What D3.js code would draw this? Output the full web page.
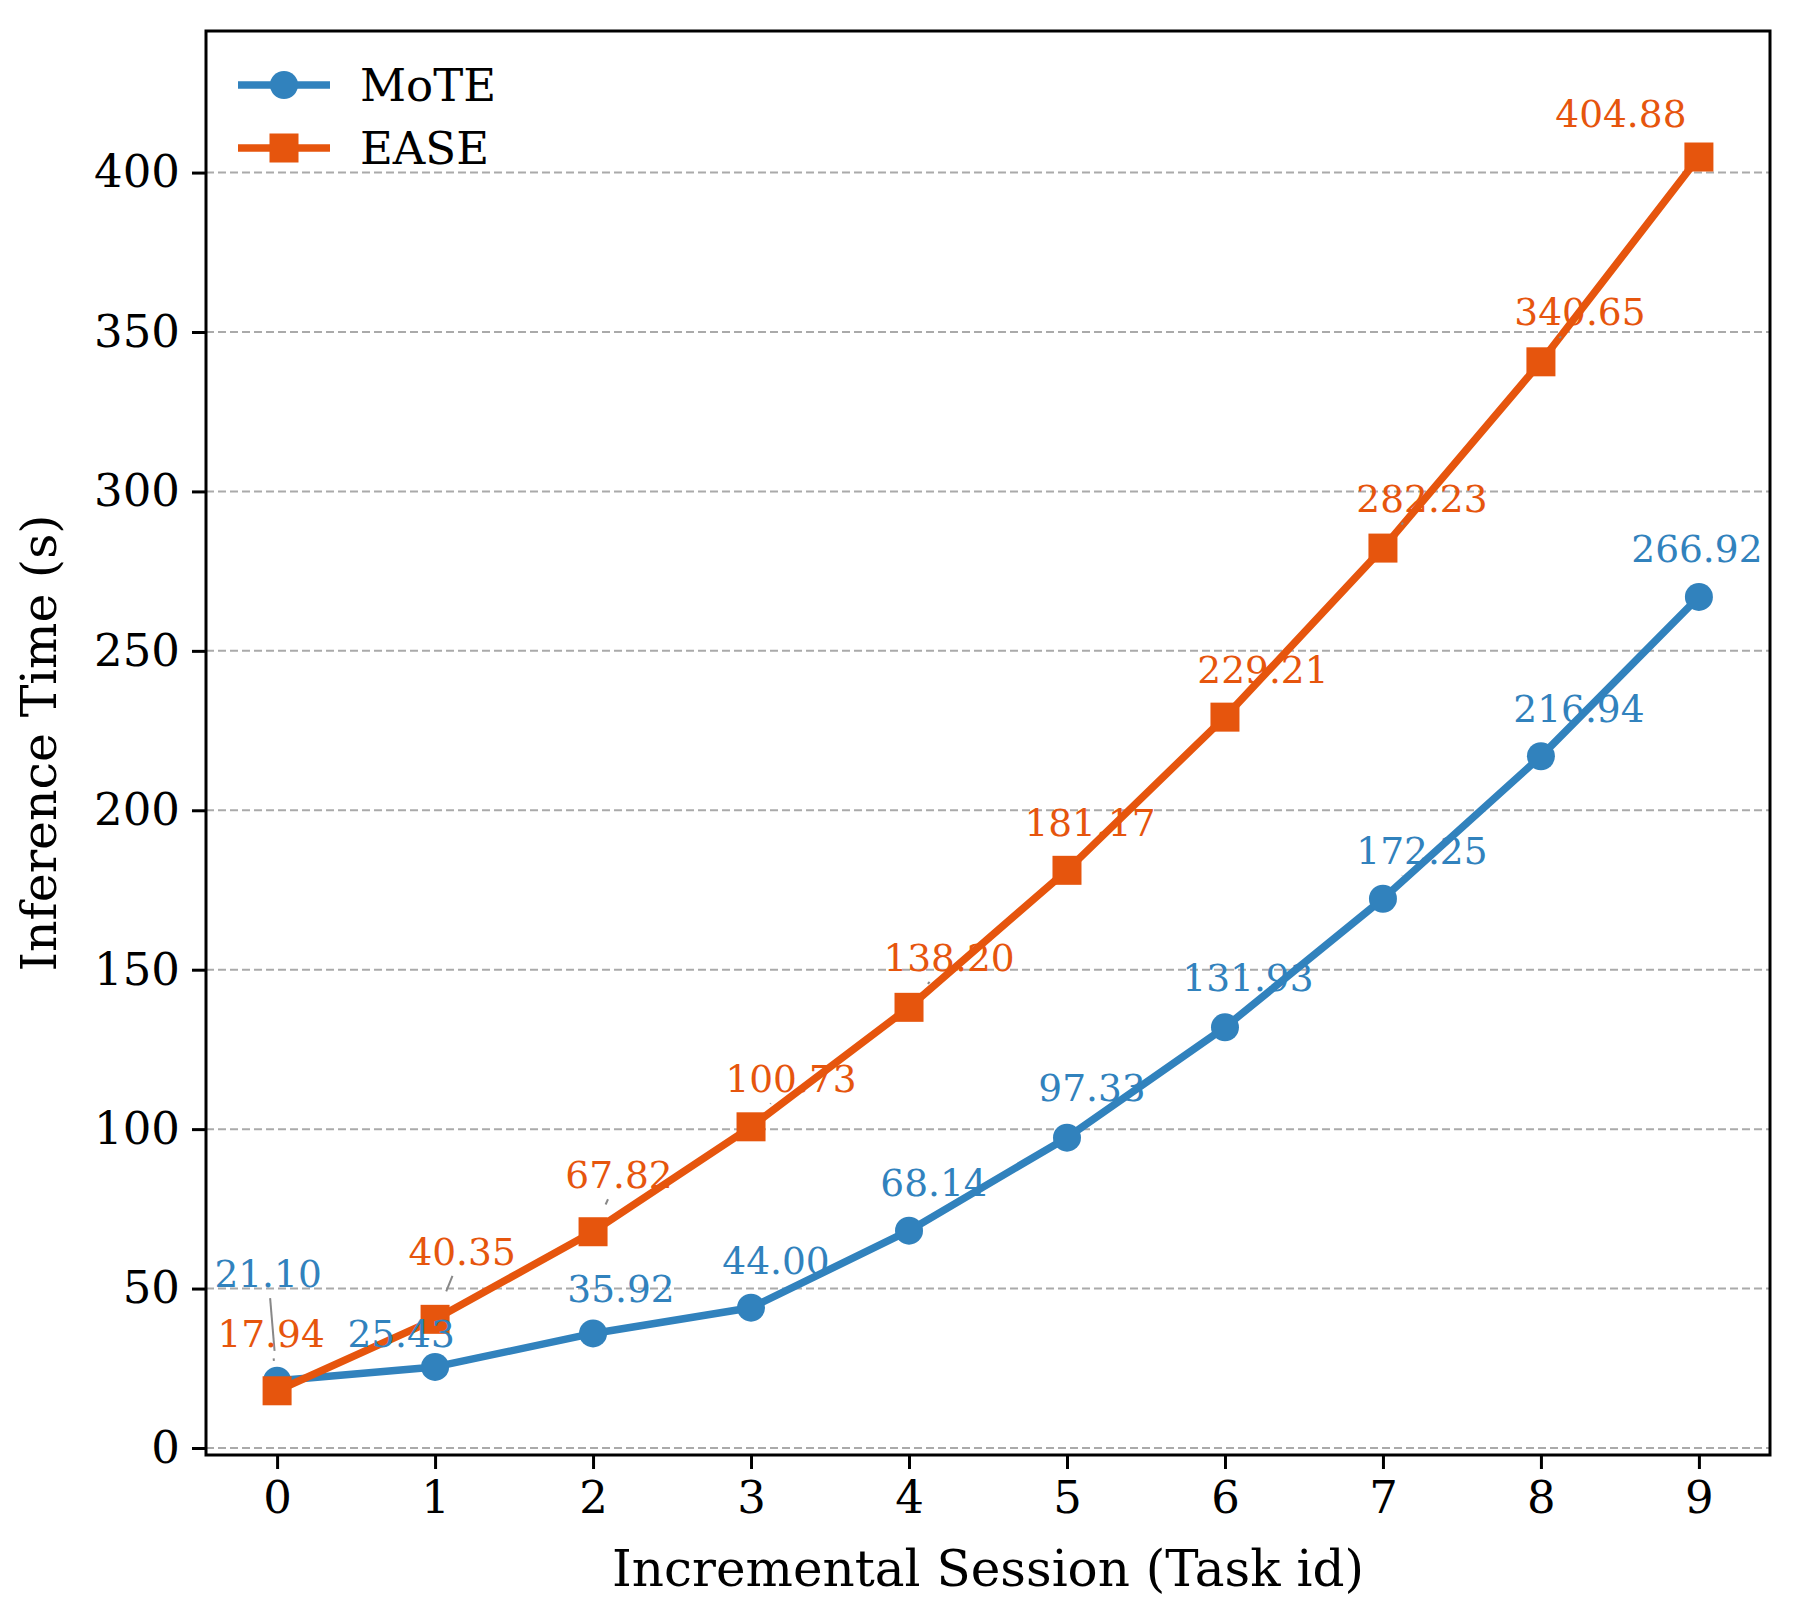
<!DOCTYPE html>
<html>
<head>
<meta charset="utf-8">
<script src="https://cdn.jsdelivr.net/npm/d3@7"></script>
<style>
    body { margin: 0; background: #fff; }
    text { font-family: "DejaVu Serif", serif; }
</style>
</head>
<body>
<svg id="chart"></svg>
<script>
// data
const taskIds = [0, 1, 2, 3, 4, 5, 6, 7, 8, 9];
const moteTimes = [21.10, 25.43, 35.92, 44.00, 68.14, 97.33, 131.93, 172.25, 216.94, 266.92];
const easeTimes = [17.94, 40.35, 67.82, 100.73, 138.20, 181.17, 229.21, 282.23, 340.65, 404.88];
const yTicks = [0, 50, 100, 150, 200, 250, 300, 350, 400];
const seriesNames = ["MoTE", "EASE"];

// where each value label sits relative to its point (px), like adjustText left them
const moteLabelOffsets = [[-9, -107], [-34, -33], [28, -45], [25, -47], [25, -48], [25, -50], [23, -50], [39, -48], [38, -48], [-2, -48]];
const easeLabelOffsets = [[-6, -57], [27, -68], [26, -57], [40, -48], [40, -50], [23, -48], [38, -48], [39, -50], [39, -50], [-78, -44]];

const W = 1798, H = 1618;
const margin = { top: 31, right: 28, bottom: 163, left: 206 };
const width = W - margin.left - margin.right;
const height = H - margin.top - margin.bottom;

const colors = { MoTE: "#3182bd", EASE: "#e6550d" };

const svg = d3.select("#chart")
    .attr("width", W)
    .attr("height", H);

const g = svg.append("g")
    .attr("transform", `translate(${margin.left}, ${margin.top})`);

// Scales (matplotlib style padding)
const xScale = d3.scaleLinear()
    .domain([-0.45, 9.45])
    .range([0, width]);

const yScale = d3.scaleLinear()
    .domain([-2.2, 444.4])
    .range([height, 0]);

// Grid
g.append("g")
    .selectAll("line")
    .data(yTicks)
    .enter()
    .append("line")
    .attr("x1", 0)
    .attr("x2", width)
    .attr("y1", d => yScale(d))
    .attr("y2", d => yScale(d))
    .attr("stroke", "#aaaaaa")
    .attr("stroke-width", 2)
    .attr("stroke-dasharray", "8,4");

// Axes
const xAxis = d3.axisBottom(xScale)
    .tickValues(taskIds)
    .tickFormat(d3.format("d"))
    .tickSize(14)
    .tickPadding(12);

const yAxis = d3.axisLeft(yScale)
    .tickValues(yTicks)
    .tickSize(14)
    .tickPadding(12);

const xAxisGroup = g.append("g")
    .attr("transform", `translate(0, ${height})`)
    .call(xAxis);

const yAxisGroup = g.append("g")
    .call(yAxis);

[xAxisGroup, yAxisGroup].forEach(ax => {
    ax.select(".domain").remove();
    ax.selectAll(".tick line").attr("stroke", "#000").attr("stroke-width", 3);
    ax.selectAll(".tick text")
        .attr("fill", "#000")
        .style("font-family", "'DejaVu Serif', serif")
        .style("font-size", "45px");
});

// Axis labels
g.append("text")
    .attr("x", width / 2)
    .attr("y", height + 131)
    .attr("text-anchor", "middle")
    .style("font-size", "50px")
    .text("Incremental Session (Task id)");

g.append("text")
    .attr("transform", "rotate(-90)")
    .attr("x", -height / 2)
    .attr("y", -150)
    .attr("text-anchor", "middle")
    .style("font-size", "49px")
    .text("Inference Time (s)");

// Lines
const line = d3.line()
    .x((d, i) => xScale(taskIds[i]))
    .y(d => yScale(d));

const series = [
    { name: "MoTE", values: moteTimes, offsets: moteLabelOffsets, shape: "circle" },
    { name: "EASE", values: easeTimes, offsets: easeLabelOffsets, shape: "square" }
];

series.forEach(s => {
    g.append("path")
        .datum(s.values)
        .attr("fill", "none")
        .attr("stroke", colors[s.name])
        .attr("stroke-width", 7.5)
        .attr("stroke-linejoin", "round")
        .attr("d", line);

    const marks = g.append("g");
    if (s.shape === "circle") {
        marks.selectAll("circle")
            .data(s.values)
            .enter()
            .append("circle")
            .attr("cx", (d, i) => xScale(taskIds[i]))
            .attr("cy", d => yScale(d))
            .attr("r", 14)
            .attr("fill", colors[s.name]);
    } else {
        marks.selectAll("rect")
            .data(s.values)
            .enter()
            .append("rect")
            .attr("x", (d, i) => xScale(taskIds[i]) - 14.5)
            .attr("y", d => yScale(d) - 14.5)
            .attr("width", 29)
            .attr("height", 29)
            .attr("fill", colors[s.name]);
    }
});

// Value labels + short grey leader lines
const labelLayer = g.append("g");
series.forEach(s => {
    s.values.forEach((v, i) => {
        const px = xScale(taskIds[i]);
        const py = yScale(v);
        const tx = px + s.offsets[i][0];
        const ty = py + s.offsets[i][1];

        const txt = labelLayer.append("text")
            .attr("x", tx)
            .attr("y", ty)
            .attr("dy", "0.36em")
            .attr("text-anchor", "middle")
            .attr("fill", colors[s.name])
            .style("font-size", "37.5px")
            .text(v.toFixed(2));

        // leader: from text box edge towards the point, stopping short of the marker
        const bb = txt.node().getBBox();
        const pad = 8;
        const hx = bb.width / 2 + pad, hy = bb.height / 2 + pad - 6;
        const cx = bb.x + bb.width / 2, cy = bb.y + bb.height / 2;
        const dx = px - cx, dy = py - cy;
        if (Math.abs(dx) > 1.5 * Math.abs(dy)) return; // label sits beside the point, no leader
        const len = Math.hypot(dx, dy);
        const tEdge = Math.min(Math.abs(dx) > 0 ? hx / Math.abs(dx) : Infinity, Math.abs(dy) > 0 ? hy / Math.abs(dy) : Infinity);
        const tEnd = 1 - 30 / len;
        if (tEnd > tEdge) {
            labelLayer.append("line")
                .attr("x1", cx + dx * tEdge)
                .attr("y1", cy + dy * tEdge)
                .attr("x2", cx + dx * tEnd)
                .attr("y2", cy + dy * tEnd)
                .attr("stroke", "#888888")
                .attr("stroke-width", 2);
        }
    });
});

// Frame
g.append("rect")
    .attr("x", 0)
    .attr("y", 0)
    .attr("width", width)
    .attr("height", height)
    .attr("fill", "none")
    .attr("stroke", "#000")
    .attr("stroke-width", 3);

// Legend
const legend = g.append("g")
    .attr("transform", `translate(${238 - margin.left}, ${85 - margin.top})`);

series.forEach((s, i) => {
    const row = legend.append("g").attr("transform", `translate(0, ${i * 63})`);
    row.append("line")
        .attr("x1", 0)
        .attr("x2", 92)
        .attr("stroke", colors[s.name])
        .attr("stroke-width", 7.5);
    if (s.shape === "circle") {
        row.append("circle").attr("cx", 46).attr("r", 14).attr("fill", colors[s.name]);
    } else {
        row.append("rect").attr("x", 31.5).attr("y", -14.5).attr("width", 29).attr("height", 29).attr("fill", colors[s.name]);
    }
    row.append("text")
        .attr("x", 122)
        .attr("dy", "0.36em")
        .style("font-size", "45px")
        .text(seriesNames[i]);
});
</script>
</body>
</html>
